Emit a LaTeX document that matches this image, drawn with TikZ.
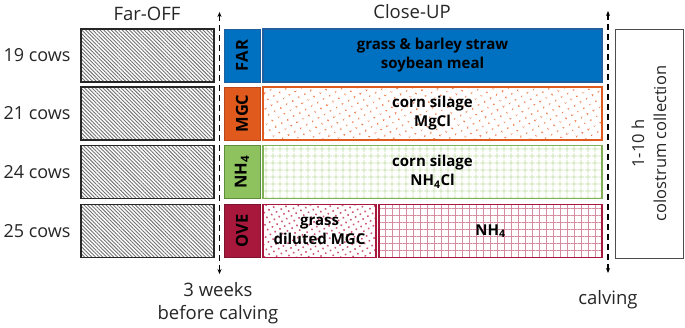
\documentclass[tikz,border=0pt]{standalone}
\usepackage{fontspec}
\setmainfont{Open Sans}
\usetikzlibrary{patterns.meta,arrows.meta}
\definecolor{farblue}{HTML}{0070C0}
\definecolor{farblueb}{HTML}{1F5F9F}
\definecolor{mgcor}{HTML}{E05A1E}
\definecolor{mgcorb}{HTML}{B8461A}
\definecolor{mgcdot}{HTML}{EE7A48}
\definecolor{nhgr}{HTML}{8EC25E}
\definecolor{nhgrb}{HTML}{5E8E3A}
\definecolor{nhgrid}{HTML}{C2DFA8}
\definecolor{overd}{HTML}{A8183C}
\definecolor{overdb}{HTML}{7E1430}
\definecolor{ovedot}{HTML}{CC5576}
\definecolor{ovegrid}{HTML}{D68CA0}
\begin{document}
\begin{tikzpicture}[x=1pt,y=-1pt,
  every node/.style={inner sep=0pt, outer sep=0pt},
  base/.style={font=\fontsize{18.5}{22}\selectfont, text=black!85},
  cows/.style={font=\fontsize{18}{22}\selectfont, text=black!85},
  lbl/.style={font=\bfseries\fontsize{16.5}{19}\selectfont, rotate=90},
  inner/.style={font=\bfseries\fontsize{15}{19}\selectfont, align=center},
  offbox/.style={draw=black!85, line width=1.3pt, minimum width=133pt, minimum height=53pt,
    preaction={fill=white}, pattern={Lines[angle=-45,distance=2.6pt,line width=0.9pt]}, pattern color=black!55},
  tagbox/.style={line width=1pt, minimum width=36pt, minimum height=53pt},
  mainbox/.style={line width=1.2pt, minimum width=339pt, minimum height=53pt},
  timeline/.style={line width=1.6pt, dash pattern=on 6pt off 4pt, {Stealth[length=5pt,width=4pt]}-{Stealth[length=5pt,width=4pt]}}
]
\useasboundingbox (0,0) rectangle (685,327);
% headings
\node[base] (faroff) at (147,14) {Far-OFF};
\node[base] (closeup) at (412,12) {Close-UP};
% cows
\node[cows] (c1) at (37,55.5) {19 cows};
\node[cows] (c2) at (37,113.5) {21 cows};
\node[cows] (c3) at (37,172) {24 cows};
\node[cows] (c4) at (37,231) {25 cows};
% far-off boxes
\node[offbox] (f1) at (147.5,55.5) {};
\node[offbox] (f2) at (147.5,113.5) {};
\node[offbox] (f3) at (147.5,172) {};
\node[offbox] (f4) at (147.5,231) {};
% tag boxes
\node[tagbox, fill=farblue, draw=farblueb] (t1) at (242,55.5) {};
\node[tagbox, fill=mgcor, draw=mgcorb] (t2) at (242,113.5) {};
\node[tagbox, fill=nhgr, draw=nhgrb] (t3) at (242,172) {};
\node[tagbox, fill=overd, draw=overdb] (t4) at (242,231) {};
\node[lbl] (l1) at (t1.center) {FAR};
\node[lbl] (l2) at (t2.center) {MGC};
\node[lbl] (l3) at (t3.center) {NH\textsubscript{4}};
\node[lbl] (l4) at (t4.center) {OVE};
% main boxes
\node[mainbox, inner, fill=farblue, draw=farblueb] (m1) at (432.5,55.5) {grass \& barley straw\\soybean meal};
\node[mainbox, inner, draw=mgcor, preaction={fill=white},
  pattern={Dots[distance=6.5pt,radius=1pt,angle=30]}, pattern color=mgcdot] (m2) at (432.5,113.5) {};
\node[inner] (m2t) at (m2.center) {corn silage\\MgCl};
\node[mainbox, inner, draw=nhgr!90!black, preaction={fill=white},
  pattern={Hatch[distance=6.5pt,line width=0.7pt]}, pattern color=nhgrid] (m3) at (432.5,172) {};
\node[inner] (m3t) at (m3.center) {corn silage\\NH\textsubscript{4}Cl};
\node[line width=1.2pt, minimum width=113pt, minimum height=53pt, draw=overd, preaction={fill=white},
  pattern={Dots[distance=5.5pt,radius=1.1pt,angle=30]}, pattern color=ovedot] (m4a) at (319.5,231) {};
\node[inner] (m4at) at (m4a.center) {grass\\diluted MGC};
\node[line width=1.2pt, minimum width=223pt, minimum height=53pt, draw=overd, preaction={fill=white},
  pattern={Hatch[distance=7pt,line width=0.8pt]}, pattern color=ovegrid] (m4b) at (490.5,231) {};
\node[inner] (m4bt) at (m4b.center) {NH\textsubscript{4}};
% colostrum box
\node[draw=black!70, line width=1pt, minimum width=68pt, minimum height=229pt] (col) at (649,143.5) {};
\node[base, rotate=90, align=center, font=\fontsize{16.5}{22}\selectfont] (colt) at (col.center) {1-10 h\\colostrum collection};
% timelines
\coordinate (top1) at (219.5,12);
\coordinate (bot1) at (219.5,274);
\coordinate (top2) at (608,11);
\coordinate (bot2) at (608,273);
\draw[timeline] (bot1) -- (top1);
\draw[timeline] (bot2) -- (top2);
\node[base, align=center, font=\fontsize{18.5}{23}\selectfont] (w3) at (218,303) {3 weeks\\before calving};
\node[base] (calv) at (608,300) {calving};
\end{tikzpicture}
\end{document}
